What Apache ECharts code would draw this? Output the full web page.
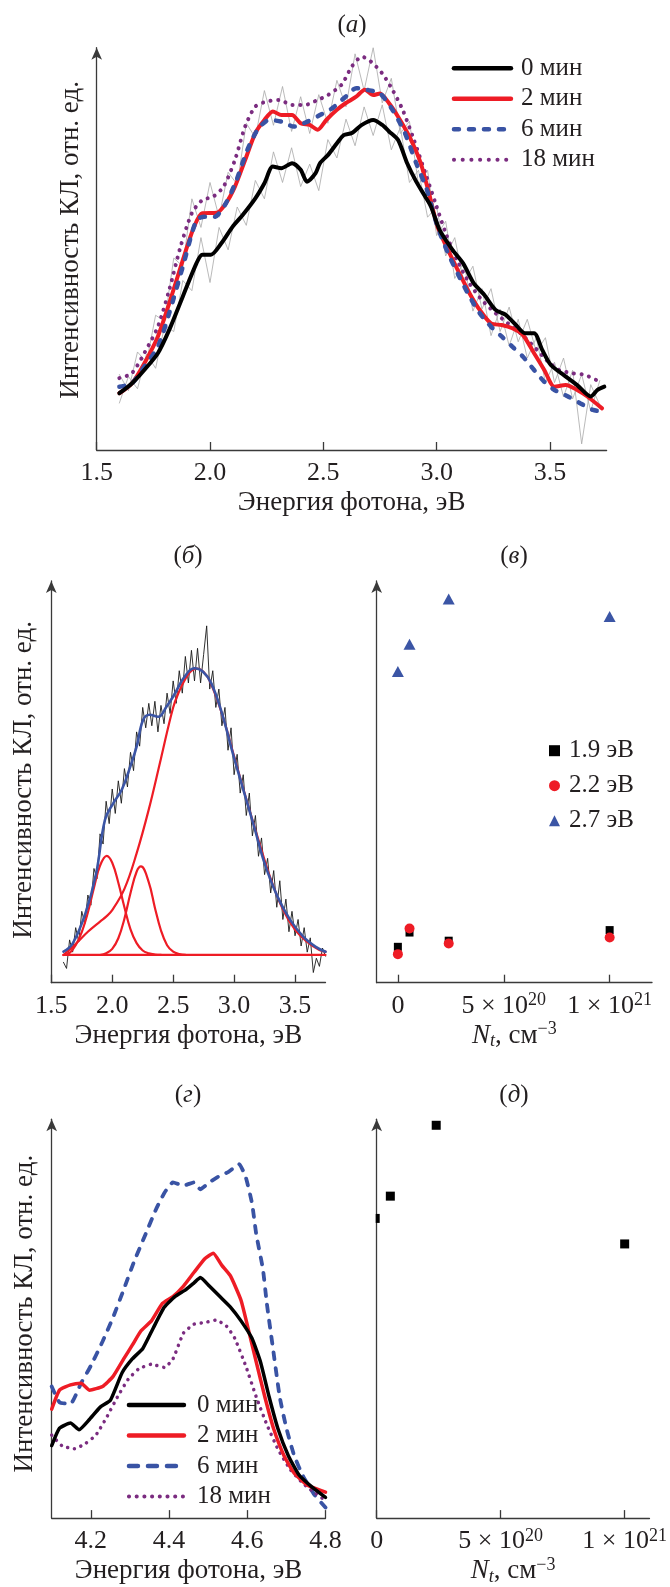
<!DOCTYPE html>
<html><head><meta charset="utf-8">
<script src="https://cdn.jsdelivr.net/npm/echarts@6/dist/echarts.min.js"></script>
<style>html,body{margin:0;padding:0;background:#fff}#c{width:670px;height:1587px}</style>
</head><body><div id="c"></div><script>
// ---------- Panel (а) ----------
const a0E = [1.60,1.655,1.71,1.77,1.82,1.88,1.94,1.966,2.004,2.05,2.10,2.145,2.20,2.24,2.277,2.315,2.362,2.40,2.428,2.466,2.485,2.52,2.56,2.59,2.626,2.67,2.72,2.76,2.79,2.83,2.87,2.91,2.95,2.975,3.013,3.07,3.117,3.164,3.21,3.26,3.305,3.35,3.39,3.43,3.466,3.504,3.56,3.62,3.68,3.71,3.74];
const a0I = [13.9,16.3,19.6,23.7,29.4,37.6,45.7,47.8,47.8,50.6,54.7,57.6,61.6,65.3,69.4,69.0,70.2,68.6,65.7,67.8,70.2,72.2,75.1,77.1,77.6,79.6,80.8,79.6,78.0,75.9,70.2,65.7,62.0,59.6,53.9,49.0,45.7,40.8,38.0,34.3,33.1,30.6,28.6,28.6,24.5,20.8,18.4,15.9,13.1,14.7,15.5];
const a2E = [1.60,1.655,1.71,1.77,1.82,1.88,1.93,1.966,2.03,2.07,2.11,2.155,2.20,2.24,2.277,2.315,2.362,2.40,2.44,2.475,2.513,2.56,2.598,2.645,2.683,2.72,2.75,2.79,2.83,2.88,2.93,2.966,3.004,3.05,3.10,3.145,3.19,3.24,3.287,3.334,3.38,3.43,3.475,3.52,3.57,3.62,3.665,3.73];
const a2I = [13.9,16.3,21.2,27.8,35.9,46.5,54.7,58.0,58.1,60.4,64.5,71.0,77.6,80.8,82.9,82.0,82.0,80.0,79.6,78.4,80.8,83.3,84.9,86.5,88.2,86.9,87.3,84.9,81.6,76.7,70.2,62.9,54.7,49.0,43.3,38.4,34.3,31.0,30.6,29.8,28.2,23.7,19.6,15.5,15.9,14.7,13.1,10.2];
const a6E = [1.60,1.655,1.71,1.77,1.82,1.88,1.94,1.975,2.02,2.07,2.117,2.165,2.21,2.26,2.315,2.37,2.43,2.485,2.54,2.598,2.645,2.69,2.75,2.805,2.86,2.91,2.957,3.004,3.05,3.10,3.145,3.19,3.24,3.287,3.334,3.38,3.43,3.475,3.52,3.58,3.635,3.69,3.73];
const a6I = [15.5,16.3,20.4,25.3,33.5,44.9,56.3,57.1,57.1,60.4,66.1,73.5,78.4,80.8,80.4,79.2,80.4,82.0,83.7,86.5,88.6,88.2,87.3,83.3,77.6,70.2,63.7,54.7,48.2,42.4,37.6,33.5,30.2,27.8,25.3,22.9,19.6,16.7,14.7,13.1,11.4,9.8,9.4];
const a18E = [1.60,1.655,1.71,1.77,1.82,1.87,1.92,1.966,2.013,2.06,2.11,2.155,2.20,2.25,2.305,2.362,2.42,2.475,2.52,2.58,2.626,2.67,2.71,2.76,2.805,2.85,2.90,2.95,2.995,3.04,3.09,3.145,3.20,3.26,3.315,3.37,3.43,3.485,3.54,3.60,3.655,3.71,3.73];
const a18I = [17.6,18.8,23.7,30.2,39.2,49.8,58.0,61.2,62.0,64.5,71.0,79.2,84.1,85.3,85.7,84.5,84.5,85.7,86.9,89.4,93.9,96.3,95.1,92.2,88.2,83.3,75.9,67.8,60.4,53.1,46.5,40.8,36.7,33.5,31.0,28.6,25.3,22.0,19.6,18.8,18.4,17.1,17.1];
// raw (noisy) spectra shown in grey
const aRawE = [1.60,1.64,1.68,1.72,1.76,1.80,1.84,1.88,1.92,1.96,2.00,2.04,2.08,2.12,2.16,2.20,2.24,2.28,2.32,2.36,2.40,2.44,2.48,2.52,2.56,2.60,2.64,2.68,2.72,2.76,2.80,2.84,2.88,2.92,2.96,3.00,3.04,3.08,3.12,3.16,3.20,3.24,3.28,3.32,3.36,3.40,3.44,3.48,3.52,3.56,3.60,3.64,3.68,3.72];
const aRawLow = [11.5,18.0,15.0,23.5,20.0,30.5,29.0,41.5,39.0,52.0,41.0,54.5,49.0,59.5,55.0,66.0,61.5,73.0,65.5,74.0,64.5,70.0,63.5,76.0,71.5,81.0,74.5,84.0,77.0,84.5,73.5,79.0,65.5,68.5,57.0,59.5,47.5,52.0,41.0,45.0,34.5,39.5,29.0,35.0,26.5,32.0,24.0,27.5,16.5,22.5,12.5,18.5,9.5,17.0];
const aRawHigh = [18.5,14.5,24.0,21.5,33.0,31.5,47.0,45.0,61.5,54.5,65.5,57.0,68.0,65.0,80.0,76.5,88.0,79.5,89.0,78.0,86.5,77.5,87.0,80.0,90.5,84.0,97.0,88.0,98.5,85.0,91.0,77.5,80.5,65.0,68.5,52.5,56.0,42.0,46.0,34.0,39.5,28.0,34.5,25.5,32.0,22.5,27.5,16.5,21.5,13.0,19.5,1.5,16.0,11.0];
const eTicks = [1.5,2.0,2.5,3.0,3.5];

// ---------- Panel (б) ----------
const bRawE = [1.6,1.625,1.65,1.675,1.7,1.725,1.75,1.775,1.8,1.825,1.85,1.875,1.9,1.925,1.95,1.975,2,2.025,2.05,2.075,2.1,2.125,2.15,2.175,2.2,2.225,2.25,2.275,2.3,2.325,2.35,2.375,2.4,2.425,2.45,2.475,2.5,2.525,2.55,2.575,2.6,2.625,2.65,2.675,2.7,2.725,2.75,2.775,2.8,2.825,2.85,2.875,2.9,2.925,2.95,2.975,3,3.025,3.05,3.075,3.1,3.125,3.15,3.175,3.2,3.225,3.25,3.275,3.3,3.325,3.35,3.375,3.4,3.425,3.45,3.475,3.5,3.525,3.55,3.575,3.6,3.625,3.65,3.675,3.7,3.725,3.75];
const bRawI = [5.0,3.5,10.5,7.5,13.5,10.0,17.5,14.5,21.5,19.0,28.0,25.5,36.5,34.0,44.5,39.0,47.5,41.5,49.5,44.0,52.5,48.0,56.5,52.0,61.5,58.0,67.5,62.5,68.5,63.0,69.0,61.5,68.0,63.5,71.0,66.0,74.0,68.5,76.5,71.0,80.0,73.5,81.5,74.0,82.0,73.5,80.5,87.5,72.0,76.5,67.5,72.0,63.0,67.5,57.0,62.5,51.0,56.0,46.5,51.0,41.0,46.5,36.0,41.0,31.0,35.5,26.5,30.5,22.0,27.5,18.5,25.0,15.5,20.5,12.5,17.5,11.5,15.5,9.0,13.5,7.5,11.0,2.5,6.0,4.0,8.5,6.5];
const bFitE = [1.60,1.675,1.78,1.868,1.94,2.008,2.078,2.148,2.20,2.253,2.306,2.376,2.446,2.516,2.586,2.673,2.743,2.813,2.90,2.989,3.076,3.164,3.25,3.356,3.46,3.567,3.67,3.75];
const bFitI = [7.6,9.6,17.0,26.8,39.9,44.0,47.3,53.0,57.9,64.4,65.7,65.2,67.7,71.0,74.7,77.1,76.3,73.4,66.1,56.3,47.3,38.3,29.3,21.1,15.4,11.3,8.8,7.6];
const bBaseE = [1.60,3.75];
const bBaseI = [6.8,6.8];
const bG1E = [1.60,1.65,1.70,1.75,1.80,1.85,1.90,1.955,2.00,2.05,2.10,2.15,2.20,2.25,2.30,2.35,2.40];
const bG1I = [6.8,7.3,9.2,12.4,17.2,23.3,28.7,31.1,29.4,24.5,18.5,13.1,9.7,7.9,7.2,6.9,6.8];
const bG2E = [1.90,1.95,2.00,2.05,2.10,2.15,2.20,2.236,2.30,2.35,2.40,2.45,2.50,2.55,2.60];
const bG2I = [6.8,7.2,8.3,10.9,15.7,22.0,27.2,28.5,24.6,18.4,12.8,9.2,7.6,7.0,6.8];
const bG3E = [1.60,1.70,1.80,1.90,1.95,2.00,2.10,2.20,2.30,2.40,2.50,2.55,2.60,2.65,2.70,2.75,2.80,2.90,3.00,3.10,3.20,3.30,3.40,3.50,3.60,3.70,3.75];
const bG3I = [6.8,9.5,12.5,15.0,16.2,17.8,23.0,31.7,42.5,55.0,67.5,71.5,74.5,76.5,77.0,76.2,74.0,66.0,55.5,45.0,35.0,25.5,18.0,13.0,10.0,8.0,7.6];

// ---------- Panel (в) ----------
const nt = [0, 5.5e19, 2.4e20, 1e21];
const v19 = [8.8, 12.3, 10.3, 12.9];
const v22 = [7.0, 13.3, 9.6, 11.1];
const v27 = [76.3, 83.0, 94.1, 89.8];
const ntTicks = [0, 5e20, 1e21];

// ---------- Panel (г) ----------
const g0E = [4.1,4.12,4.148,4.17,4.197,4.224,4.25,4.28,4.306,4.333,4.36,4.388,4.415,4.443,4.464,4.48,4.503,4.53,4.557,4.584,4.612,4.634,4.656,4.678,4.705,4.732,4.765,4.8];
const g0I = [17.9,22.2,23.5,21.8,24.4,27.4,29.1,35.9,39.3,41.9,47.0,52.1,54.7,56.4,58.1,59.4,57.3,54.7,52.1,48.7,44.4,38.5,29.9,22.2,15.4,10.7,7.7,5.1];
const g2E = [4.1,4.12,4.148,4.175,4.197,4.23,4.257,4.284,4.306,4.328,4.355,4.383,4.41,4.437,4.464,4.492,4.513,4.535,4.557,4.584,4.606,4.623,4.645,4.667,4.694,4.72,4.754,4.8];
const g2I = [26.9,31.6,32.9,33.3,31.6,32.5,35.0,39.3,42.7,46.2,48.7,53.0,54.7,57.3,60.7,64.1,65.4,62.4,59.8,53.8,45.3,38.5,29.9,22.2,15.4,11.1,8.1,6.4];
const g6E = [4.1,4.12,4.148,4.175,4.2,4.23,4.257,4.284,4.31,4.34,4.366,4.388,4.41,4.437,4.464,4.48,4.503,4.524,4.552,4.579,4.596,4.612,4.623,4.64,4.65,4.667,4.683,4.7,4.72,4.743,4.77,4.8];
const g6I = [32.5,28.6,28.2,33.3,37.6,43.6,49.6,56.4,63.2,70.1,76.1,80.3,82.9,82.1,82.9,81.2,82.9,84.2,85.5,87.4,84.2,77.8,70.1,61.5,53.0,41.0,29.9,22.2,15.4,10.3,6.0,2.6];
const g18E = [4.1,4.126,4.158,4.186,4.213,4.24,4.268,4.295,4.322,4.355,4.388,4.41,4.437,4.464,4.492,4.52,4.547,4.568,4.596,4.623,4.65,4.678,4.71,4.743,4.776,4.8];
const g18I = [20.5,17.9,17.1,18.4,20.5,24.8,29.9,34.2,36.8,38.0,37.2,39.3,45.7,47.9,48.3,48.9,47.4,44.4,37.6,29.9,23.1,17.1,12.0,8.5,6.0,4.3];
const gTicks = [4.2,4.4,4.6,4.8];

// ---------- Panel (д) ----------
const dNt = [0, 5.5e19, 2.4e20, 1e21];
const dV = [74.0, 79.5, 97.0, 67.7];

// ---------- helpers ----------
const FONT = '"Liberation Serif", "Times New Roman", serif';
const TXT = '#231f20';
const AX = '#3a3a3a';
const zip = (xs, ys) => xs.map((x, i) => [x, ys[i]]);
const C0 = '#000000', C2 = '#ee1c25', C6 = '#3953a4', C18 = '#7b2c80';

const grids = [
  {left: 96.7, top: 47.7, width: 509.9, height: 402.3},
  {left: 51.3, top: 581, width: 274.2, height: 401.7},
  {left: 376.7, top: 581, width: 275.3, height: 401.7},
  {left: 51.7, top: 1119.2, width: 273.8, height: 401.6},
  {left: 376.7, top: 1119.2, width: 273.3, height: 401.6}
];

const TICK_FS = 26;
const supRich = {
  n: {fontFamily: FONT, fontSize: TICK_FS, color: TXT, lineHeight: 28},
  s: {fontFamily: FONT, fontSize: 18, color: TXT, lineHeight: 17, verticalAlign: 'top'}
};
function ntFmt(v) {
  if (Math.abs(v) < 1e10) return '{n|0}';
  if (Math.abs(v - 5e20) < 1e18) return '{n|5 × 10}{s|20}';
  return '{n|1 × 10}{s|21}';
}
function eFmt(v) { return '{n|' + v.toFixed(1) + '}'; }
const tickRich = {n: {fontFamily: FONT, fontSize: TICK_FS, color: TXT, lineHeight: 28}};
const nameRichNt = {
  i: {fontFamily: FONT, fontSize: 27, fontStyle: 'italic', color: TXT, lineHeight: 30},
  b: {fontFamily: FONT, fontSize: 18, fontStyle: 'italic', color: TXT, lineHeight: 16, verticalAlign: 'bottom'},
  n: {fontFamily: FONT, fontSize: 27, color: TXT, lineHeight: 30},
  p: {fontFamily: FONT, fontSize: 18, color: TXT, lineHeight: 16, verticalAlign: 'top'}
};
const NT_NAME = '{i|N}{b|t}{n|, см}{p|−3}';
const E_NAME = 'Энергия фотона, эВ';
const Y_NAME = 'Интенсивность КЛ, отн. ед.';

function xAxis(gi, min, max, ticks, fmt, name, rich, gap, isNt) {
  return {
    type: 'value', gridIndex: gi, min: min, max: max,
    axisLine: {show: true, onZero: false, lineStyle: {color: AX, width: 1.3}},
    axisTick: {show: true, inside: true, length: 8, customValues: ticks, lineStyle: {color: AX, width: 1.3}},
    axisLabel: {show: true, customValues: ticks, formatter: fmt, margin: 9, color: TXT,
      fontFamily: FONT, fontSize: TICK_FS, lineHeight: 28, rich: rich},
    splitLine: {show: false},
    name: name, nameLocation: 'middle', nameGap: gap,
    nameTextStyle: {fontFamily: FONT, fontSize: 27, color: TXT, lineHeight: 30, rich: isNt ? nameRichNt : undefined}
  };
}
function yAxis(gi, named, gap, pad) {
  return {
    type: 'value', gridIndex: gi, min: 0, max: 98.5,
    axisLine: {show: true, onZero: false, symbol: ['none', 'arrow'], symbolSize: [8, 12], lineStyle: {color: AX, width: 1.3}},
    axisTick: {show: false}, axisLabel: {show: false}, splitLine: {show: false},
    name: named ? Y_NAME : '', nameLocation: 'middle', nameGap: gap,
    nameTextStyle: {fontFamily: FONT, fontSize: 27, color: TXT, lineHeight: 30, padding: [0, 0, 0, pad || 0]}
  };
}

function line(name, xi, E, I, color, width, extra) {
  return Object.assign({
    type: 'line', name: name, xAxisIndex: xi, yAxisIndex: xi, data: zip(E, I),
    symbol: 'none', showSymbol: false, smooth: 0.25, silent: true,
    lineStyle: {color: color, width: width, cap: 'round', join: 'round'},
    itemStyle: {color: color}
  }, extra || {});
}

const series = [
  // (а)
  line('', 0, aRawE, aRawLow, '#a8a8a8', 0.8, {smooth: false, z: 1}),
  line('', 0, aRawE, aRawHigh, '#a8a8a8', 0.8, {smooth: false, z: 1}),
  line('18 мин', 0, a18E, a18I, C18, 4, {lineStyle: {color: C18, width: 4, type: [0.1, 7.6], cap: 'round'}, z: 2}),
  line('2 мин', 0, a2E, a2I, C2, 4, {z: 3}),
  line('6 мин', 0, a6E, a6I, C6, 4.5, {lineStyle: {color: C6, width: 4.5, type: [5, 10], cap: 'round'}, z: 4}),
  line('0 мин', 0, a0E, a0I, C0, 4, {z: 5}),
  // (б)
  line('', 1, bRawE, bRawI, '#1a1a1a', 0.9, {smooth: false, z: 1}),
  line('', 1, bBaseE, bBaseI, C2, 2.2, {smooth: false, z: 2}),
  line('', 1, bG1E, bG1I, C2, 2.2, {smooth: 0.4, z: 2}),
  line('', 1, bG2E, bG2I, C2, 2.2, {smooth: 0.4, z: 2}),
  line('', 1, bG3E, bG3I, C2, 2.2, {smooth: 0.4, z: 2}),
  line('', 1, bFitE, bFitI, '#3b55a5', 2.6, {smooth: 0.4, z: 3}),
  // (в)
  {type: 'scatter', name: '1.9 эВ', xAxisIndex: 2, yAxisIndex: 2, data: zip(nt, v19), symbol: 'rect', symbolSize: 8, itemStyle: {color: '#000', opacity: 1}, silent: true},
  {type: 'scatter', name: '2.2 эВ', xAxisIndex: 2, yAxisIndex: 2, data: zip(nt, v22), symbol: 'circle', symbolSize: 10, itemStyle: {color: '#ee1c25', opacity: 1}, silent: true},
  {type: 'scatter', name: '2.7 эВ', xAxisIndex: 2, yAxisIndex: 2, data: zip(nt, v27), symbol: 'triangle', symbolSize: [12, 11], itemStyle: {color: '#3b55a5', opacity: 1}, silent: true},
  // (г)
  line('6 мин', 3, g6E, g6I, C6, 3.8, {smooth: 0.15, lineStyle: {color: C6, width: 3.8, type: [7, 9], cap: 'round'}, z: 2}),
  line('18 мин', 3, g18E, g18I, C18, 3.5, {smooth: 0.15, lineStyle: {color: C18, width: 3.5, type: [0.1, 6.8], cap: 'round'}, z: 2}),
  line('2 мин', 3, g2E, g2I, C2, 3.5, {smooth: 0.15, z: 3}),
  line('0 мин', 3, g0E, g0I, C0, 3.5, {smooth: 0.15, z: 4}),
  // (д)
  {type: 'scatter', name: 'д', xAxisIndex: 4, yAxisIndex: 4, silent: true, clip: false,
    data: zip(dNt, dV).map((p, i) => i === 0 ? {value: p, symbolSize: [4, 9], symbolOffset: [1, 0]} : {value: p}),
    symbol: 'rect', symbolSize: 9, itemStyle: {color: '#000', opacity: 1}}
];

function legendTextStyle(gap) {
  return {fontFamily: FONT, fontSize: 25, color: TXT, rich: {g: {width: gap, fontFamily: FONT, fontSize: 25}, t: {fontFamily: FONT, fontSize: 25, color: TXT}}};
}
const option = {
  animation: false,
  backgroundColor: '#ffffff',
  textStyle: {fontFamily: FONT},
  grid: grids.map(g => Object.assign({containLabel: false}, g)),
  xAxis: [
    xAxis(0, 1.5, 3.75, eTicks, eFmt, E_NAME, tickRich, 38, false),
    xAxis(1, 1.5, 3.75, eTicks, eFmt, E_NAME, tickRich, 36, false),
    xAxis(2, -1e20, 1.2e21, ntTicks, ntFmt, NT_NAME, supRich, 36, true),
    xAxis(3, 4.1, 4.8, gTicks, eFmt, E_NAME, tickRich, 37, false),
    xAxis(4, 0, 1.1e21, ntTicks, ntFmt, NT_NAME, supRich, 37, true)
  ],
  yAxis: [yAxis(0, true, 11, 18), yAxis(1, true, 12, 4), yAxis(2, false, 0), yAxis(3, true, 12, 10), yAxis(4, false, 0)],
  legend: [
    {orient: 'vertical', left: 451.7, top: 55.8, padding: 0, itemWidth: 57, itemHeight: 14, itemGap: 5.5, selectedMode: false,
      itemStyle: {opacity: 0},
      data: [
        {name: '0 мин', lineStyle: {width: 4.5}},
        {name: '2 мин', lineStyle: {width: 4.5}},
        {name: '6 мин', lineStyle: {width: 4.5, type: [5, 10]}},
        {name: '18 мин', lineStyle: {width: 4, type: [0.1, 8.6]}}
      ],
      formatter: n => '{g|}{t|' + n + '}', textStyle: legendTextStyle(5)},
    {orient: 'vertical', left: 549, top: 738.2, padding: 0, itemWidth: 11, itemHeight: 11, itemGap: 10, selectedMode: false,
      data: ['1.9 эВ', '2.2 эВ', '2.7 эВ'],
      formatter: n => '{g|}{t|' + n + '}', textStyle: legendTextStyle(4)},
    {orient: 'vertical', left: 126.7, top: 1392.5, padding: 0, itemWidth: 55, itemHeight: 14, itemGap: 5.5, selectedMode: false,
      itemStyle: {opacity: 0},
      data: [
        {name: '0 мин', lineStyle: {width: 4.5}},
        {name: '2 мин', lineStyle: {width: 4.5}},
        {name: '6 мин', lineStyle: {width: 4.5, type: [9, 10]}},
        {name: '18 мин', lineStyle: {width: 4, type: [0.1, 7.6]}}
      ],
      formatter: n => '{g|}{t|' + n + '}', textStyle: legendTextStyle(8)}
  ],
  graphic: [
    ['а', 352, 25], ['б', 188, 556.7], ['в', 514, 556.7], ['г', 188, 1095.7], ['д', 514, 1095.7]
  ].map(p => ({
    type: 'text', x: p[1], y: p[2], silent: true,
    style: {
      text: '{p|(}{i|' + p[0] + '}{p|)}', align: 'center', verticalAlign: 'middle',
      rich: {p: {fontFamily: FONT, fontSize: 25, fill: TXT}, i: {fontFamily: FONT, fontSize: 25, fontStyle: 'italic', fill: TXT}}
    }
  })),
  series: series
};
const chart = echarts.init(document.getElementById('c'), null, {renderer: 'canvas'});
chart.setOption(option);
</script></body></html>
